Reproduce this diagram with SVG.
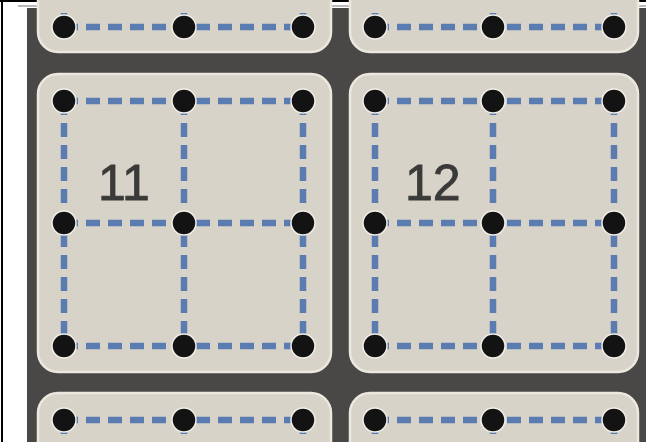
<svg xmlns="http://www.w3.org/2000/svg" width="646" height="442" viewBox="0 0 646 442">
<style>
.card{fill:#d8d3c9;stroke:#ece8df;stroke-width:2.5}
.ln{stroke:#5a7cb0;stroke-width:6.5;fill:none;stroke-dasharray:14 8}
.dot{fill:#131313;stroke:#f3f0e9;stroke-width:1.5}
.num{font-family:"Liberation Sans",Arial,sans-serif;font-size:50px;fill:#3a3a38;stroke:#3a3a38;stroke-width:0.8}
</style>
<rect x="0" y="0" width="646" height="442" fill="#ffffff"/>
<rect x="27" y="8" width="619" height="434" fill="#494846"/>
<line x1="0" y1="1" x2="646" y2="1" stroke="#000" stroke-width="2"/>
<line x1="2" y1="1" x2="2" y2="442" stroke="#000" stroke-width="2"/>
<line x1="18" y1="6" x2="646" y2="6" stroke="#b9b9b9" stroke-width="2"/>
<g id="card-top-left"><rect class="card" x="38" y="-40" width="293" height="92" rx="20"/></g>
<g id="card-top-right"><rect class="card" x="350" y="-40" width="288" height="92" rx="20"/></g>
<g id="card-11"><rect class="card" x="38" y="74" width="293" height="298" rx="20"/></g>
<g id="card-12"><rect class="card" x="350" y="74" width="288" height="298" rx="20"/></g>
<g id="card-bottom-left"><rect class="card" x="38" y="393" width="293" height="90" rx="20"/></g>
<g id="card-bottom-right"><rect class="card" x="350" y="393" width="288" height="90" rx="20"/></g>
<g id="connectors">
<line class="ln" x1="64" y1="27" x2="303" y2="27"/>
<line class="ln" x1="375" y1="27" x2="614" y2="27"/>
<line class="ln" x1="64" y1="27" x2="64" y2="9"/>
<line class="ln" x1="184" y1="27" x2="184" y2="9"/>
<line class="ln" x1="303" y1="27" x2="303" y2="9"/>
<line class="ln" x1="375" y1="27" x2="375" y2="9"/>
<line class="ln" x1="493" y1="27" x2="493" y2="9"/>
<line class="ln" x1="614" y1="27" x2="614" y2="9"/>
<line class="ln" x1="64" y1="101" x2="303" y2="101"/>
<line class="ln" x1="64" y1="223" x2="303" y2="223"/>
<line class="ln" x1="64" y1="346" x2="303" y2="346"/>
<line class="ln" x1="64" y1="101" x2="64" y2="346"/>
<line class="ln" x1="184" y1="101" x2="184" y2="346"/>
<line class="ln" x1="303" y1="101" x2="303" y2="346"/>
<line class="ln" x1="375" y1="101" x2="614" y2="101"/>
<line class="ln" x1="375" y1="223" x2="614" y2="223"/>
<line class="ln" x1="375" y1="346" x2="614" y2="346"/>
<line class="ln" x1="375" y1="101" x2="375" y2="346"/>
<line class="ln" x1="493" y1="101" x2="493" y2="346"/>
<line class="ln" x1="614" y1="101" x2="614" y2="346"/>
<line class="ln" x1="64" y1="420" x2="303" y2="420"/>
<line class="ln" x1="375" y1="420" x2="614" y2="420"/>
<line class="ln" x1="64" y1="420" x2="64" y2="442"/>
<line class="ln" x1="184" y1="420" x2="184" y2="442"/>
<line class="ln" x1="303" y1="420" x2="303" y2="442"/>
<line class="ln" x1="375" y1="420" x2="375" y2="442"/>
<line class="ln" x1="493" y1="420" x2="493" y2="442"/>
<line class="ln" x1="614" y1="420" x2="614" y2="442"/>
</g>
<g id="dots">
<circle class="dot" cx="64" cy="27" r="12"/><circle class="dot" cx="184" cy="27" r="12"/><circle class="dot" cx="303" cy="27" r="12"/>
<circle class="dot" cx="375" cy="27" r="12"/><circle class="dot" cx="493" cy="27" r="12"/><circle class="dot" cx="614" cy="27" r="12"/>
<circle class="dot" cx="64" cy="101" r="12"/><circle class="dot" cx="184" cy="101" r="12"/><circle class="dot" cx="303" cy="101" r="12"/>
<circle class="dot" cx="64" cy="223" r="12"/><circle class="dot" cx="184" cy="223" r="12"/><circle class="dot" cx="303" cy="223" r="12"/>
<circle class="dot" cx="64" cy="346" r="12"/><circle class="dot" cx="184" cy="346" r="12"/><circle class="dot" cx="303" cy="346" r="12"/>
<circle class="dot" cx="375" cy="101" r="12"/><circle class="dot" cx="493" cy="101" r="12"/><circle class="dot" cx="614" cy="101" r="12"/>
<circle class="dot" cx="375" cy="223" r="12"/><circle class="dot" cx="493" cy="223" r="12"/><circle class="dot" cx="614" cy="223" r="12"/>
<circle class="dot" cx="375" cy="346" r="12"/><circle class="dot" cx="493" cy="346" r="12"/><circle class="dot" cx="614" cy="346" r="12"/>
<circle class="dot" cx="64" cy="420" r="12"/><circle class="dot" cx="184" cy="420" r="12"/><circle class="dot" cx="303" cy="420" r="12"/>
<circle class="dot" cx="375" cy="420" r="12"/><circle class="dot" cx="493" cy="420" r="12"/><circle class="dot" cx="614" cy="420" r="12"/>
</g>
<g id="labels">
<text class="num" x="98" y="200">11</text>
<text class="num" x="405" y="200">12</text>
</g>
</svg>
